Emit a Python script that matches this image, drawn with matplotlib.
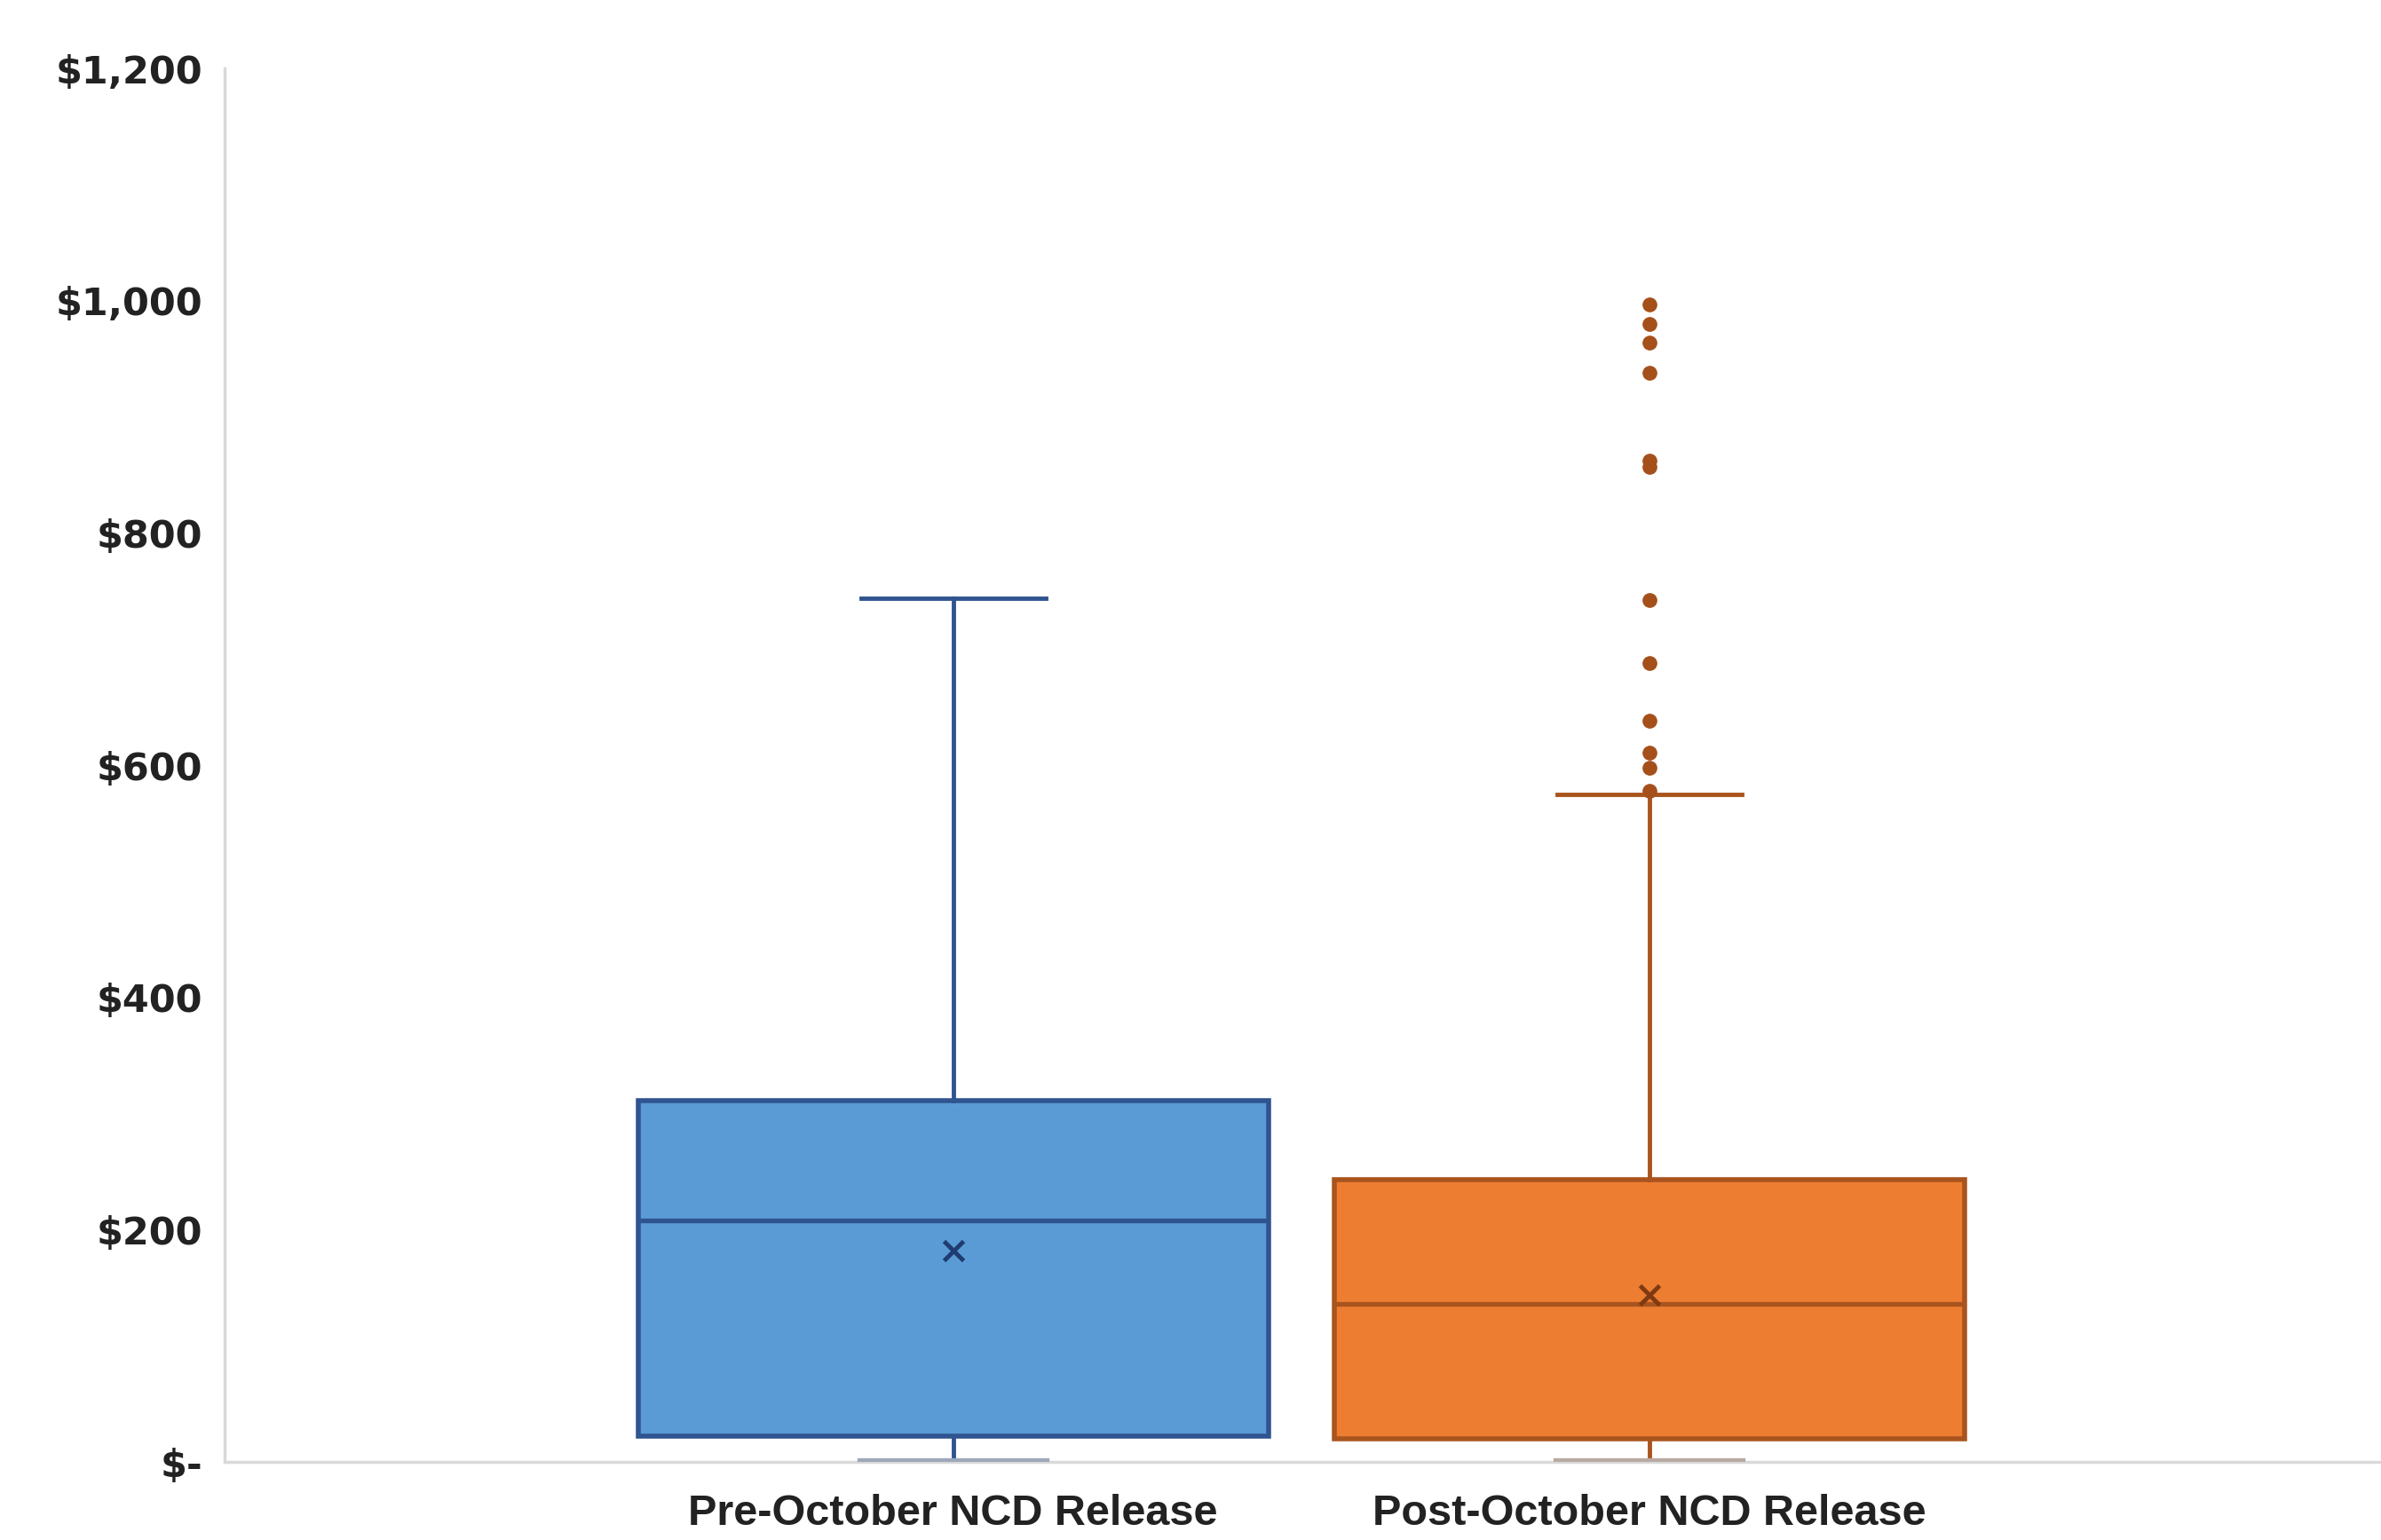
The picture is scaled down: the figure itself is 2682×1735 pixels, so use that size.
import matplotlib
matplotlib.use('Agg')
import matplotlib.pyplot as plt
from matplotlib.ticker import FuncFormatter

# Box statistics (dollars)
labels = ['Pre-October NCD Release', 'Post-October NCD Release']
q1 = [22, 20]
median = [208, 136]
q3 = [311, 243]
whisker_low = [0, 0]
whisker_high = [744, 575]
mean = [182, 144]
outliers_pre = []
outliers_post = [997, 980, 964, 938, 862, 857, 742, 688, 638, 611, 598, 578]

fills = ['#5B9BD5', '#ED7D31']
edges = ['#2F5490', '#A9541E']
mean_cols = ['#1F3C70', '#7F3A12']
low_caps = ['#9EA7BA', '#B8AAA2']

stats = []
for i, lab in enumerate(labels):
    stats.append({
        'label': lab,
        'q1': q1[i], 'med': median[i], 'q3': q3[i],
        'whislo': whisker_low[i], 'whishi': whisker_high[i],
        'mean': mean[i],
        'fliers': [outliers_pre, outliers_post][i],
    })

fig = plt.figure(figsize=(26.82, 17.35), dpi=100)
ax = fig.add_axes([0.0943, 0.0507, 0.9057, 0.9049])

parts = ax.bxp(stats, positions=[1, 2], widths=0.905, capwidths=0.265,
               showmeans=True, patch_artist=True, zorder=3)

for i in range(2):
    box = parts['boxes'][i]
    box.set_facecolor(fills[i])
    box.set_edgecolor(edges[i])
    box.set_linewidth(4)
    parts['medians'][i].set_color(edges[i])
    parts['medians'][i].set_linewidth(3.8)
    for w in parts['whiskers'][2 * i:2 * i + 2]:
        w.set_color(edges[i])
        w.set_linewidth(3.5)
    lo_cap, hi_cap = parts['caps'][2 * i], parts['caps'][2 * i + 1]
    hi_cap.set_color(edges[i])
    hi_cap.set_linewidth(3.5)
    lo_cap.set_color(low_caps[i])
    lo_cap.set_linewidth(6)
    lo_cap.set_zorder(4)
    m = parts['means'][i]
    m.set_marker('x')
    m.set_markersize(16)
    m.set_markeredgewidth(3.5)
    m.set_markeredgecolor(mean_cols[i])
    m.set_markerfacecolor(mean_cols[i])
    f = parts['fliers'][i]
    f.set_marker('o')
    f.set_markersize(11)
    f.set_markerfacecolor('#A5501B')
    f.set_markeredgecolor('#A5501B')

ax.set_xlim(-0.046, 3.05)
ax.set_ylim(0, 1200)
ax.set_yticks([0, 200, 400, 600, 800, 1000, 1200])


def money(v, pos):
    if v == 0:
        return '$-'
    return '${:,.0f}'.format(v)


ax.yaxis.set_major_formatter(FuncFormatter(money))
ax.tick_params(axis='y', length=0, pad=18, labelsize=31)
ax.tick_params(axis='x', length=0, pad=26)
for t in ax.get_yticklabels():
    t.set_fontweight('bold')
    t.set_family('DejaVu Sans')
    t.set_color('#222222')
ax.set_xticklabels(labels, fontsize=35, fontweight='bold',
                   family=['Liberation Sans', 'DejaVu Sans'], color='#222222')

for s in ['top', 'right']:
    ax.spines[s].set_visible(False)
for s in ['left', 'bottom']:
    ax.spines[s].set_color('#D9D9D9')
    ax.spines[s].set_linewidth(2.5)
ax.spines['bottom'].set_zorder(1)

fig.savefig('out.png', dpi=100)
